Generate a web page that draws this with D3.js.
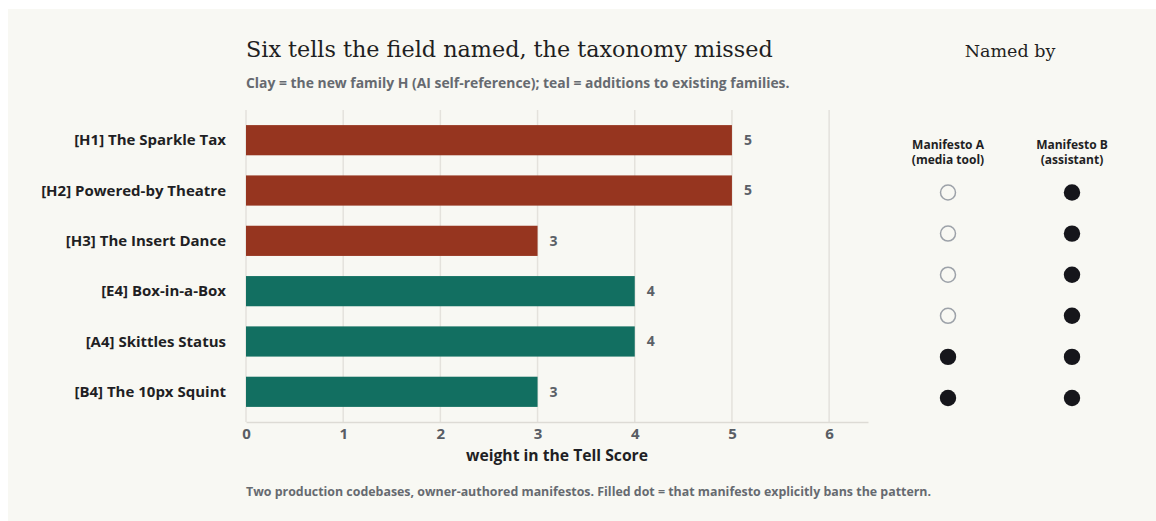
<!DOCTYPE html>
<meta charset="utf-8">
<style>
body {
  margin: 0;
  background: #ffffff;
  font-family: "Open Sans", Lato, sans-serif;
}
.title, .panel-title {
  font-family: "DejaVu Serif", "Liberation Serif", serif;
  fill: #1f1f22;
}
.subtitle, .footer {
  font-weight: 700;
  fill: #666a70;
}
.cat-label {
  font-weight: 700;
  font-size: 15px;
  fill: #1f1f24;
  text-anchor: end;
}
.val-label {
  font-weight: 700;
  font-size: 14px;
  fill: #5b6067;
}
.x-axis text {
  font-family: "Open Sans", sans-serif;
  font-weight: 700;
  font-size: 15px;
  fill: #585d64;
}
.col-head {
  font-weight: 700;
  font-size: 12px;
  fill: #1f1f24;
  text-anchor: middle;
}
</style>
<body>
<script src="https://cdn.jsdelivr.net/npm/d3@7"></script>
<script>
// data
var categories = [
  "[H1] The Sparkle Tax",
  "[H2] Powered-by Theatre",
  "[H3] The Insert Dance",
  "[E4] Box-in-a-Box",
  "[A4] Skittles Status",
  "[B4] The 10px Squint"
];
var weights = [5, 5, 3, 4, 4, 3];
var families = ["new", "new", "new", "existing", "existing", "existing"];
var manifestoA = [false, false, false, false, true, true];
var manifestoB = [true, true, true, true, true, true];
var xTicks = [0, 1, 2, 3, 4, 5, 6];
var manifestos = [
  {line1: "Manifesto A", line2: "(media tool)", bans: manifestoA},
  {line1: "Manifesto B", line2: "(assistant)", bans: manifestoB}
];

var familyColor = {"new": "#96351f", "existing": "#126f61"};

var W = 1156, H = 521;
var svg = d3.select("body").append("svg")
    .attr("width", W).attr("height", H);

// card
svg.append("rect")
    .attr("x", 8).attr("y", 9)
    .attr("width", W - 8).attr("height", H - 9)
    .attr("fill", "#f8f8f3");

var x = d3.scaleLinear().domain([0, 6.4]).range([246, 868]);
var y = d3.scaleBand().domain(categories).range([110, 422])
    .paddingInner(0.4).paddingOuter(0.3);

// gridlines
svg.append("g").selectAll("line")
    .data(xTicks)
  .enter().append("line")
    .attr("x1", function(d) { return x(d); })
    .attr("x2", function(d) { return x(d); })
    .attr("y1", 110).attr("y2", 422)
    .attr("stroke", "#e4e2dc")
    .attr("stroke-width", 1.5);

// x axis
var xAxis = svg.append("g")
    .attr("class", "x-axis")
    .attr("transform", "translate(0,422)")
    .call(d3.axisBottom(x).tickValues(xTicks).tickSize(0).tickPadding(6).tickFormat(d3.format("d")));
xAxis.select(".domain").attr("stroke", "#dddbd5").attr("stroke-width", 1.5);

// bars
svg.append("g").selectAll("rect")
    .data(categories)
  .enter().append("rect")
    .attr("x", x(0))
    .attr("y", function(d) { return y(d); })
    .attr("width", function(d, i) { return x(weights[i]) - x(0); })
    .attr("height", y.bandwidth())
    .attr("fill", function(d, i) { return familyColor[families[i]]; });

// value labels
svg.append("g").selectAll("text")
    .data(categories)
  .enter().append("text")
    .attr("class", "val-label")
    .attr("x", function(d, i) { return x(weights[i]) + 12; })
    .attr("y", function(d) { return y(d) + y.bandwidth() / 2; })
    .attr("dy", "0.35em")
    .text(function(d, i) { return weights[i]; });

// category labels
svg.append("g").selectAll("text")
    .data(categories)
  .enter().append("text")
    .attr("class", "cat-label")
    .attr("x", 226)
    .attr("y", function(d) { return y(d) + y.bandwidth() / 2; })
    .attr("dy", "0.35em")
    .text(function(d) { return d; });

// titles
svg.append("text")
    .attr("class", "title")
    .attr("x", 246).attr("y", 57)
    .style("font-size", "22.3px")
    .text("Six tells the field named, the taxonomy missed");

svg.append("text")
    .attr("class", "subtitle")
    .attr("x", 246).attr("y", 88)
    .style("font-size", "13.9px")
    .text("Clay = the new family H (AI self-reference); teal = additions to existing families.");

svg.append("text")
    .attr("x", (x(0) + x(6.4)) / 2).attr("y", 461)
    .attr("text-anchor", "middle")
    .style("font-size", "15.7px").style("font-weight", 700).style("fill", "#1f1f24")
    .text("weight in the Tell Score");

svg.append("text")
    .attr("class", "footer")
    .attr("x", 246).attr("y", 496)
    .style("font-size", "12.4px")
    .text("Two production codebases, owner-authored manifestos. Filled dot = that manifesto explicitly bans the pattern.");

// dot panel
var col = d3.scalePoint().domain([0, 1]).range([948, 1072]);
var row = d3.scalePoint().domain(categories).range([192.5, 398]);

svg.append("text")
    .attr("class", "panel-title")
    .attr("x", 1010).attr("y", 57)
    .attr("text-anchor", "middle")
    .style("font-size", "17.5px")
    .text("Named by");

var heads = svg.append("g").selectAll("g")
    .data(manifestos)
  .enter().append("g");
heads.append("text")
    .attr("class", "col-head")
    .attr("x", function(d, i) { return col(i); })
    .attr("y", 149)
    .text(function(d) { return d.line1; });
heads.append("text")
    .attr("class", "col-head")
    .attr("x", function(d, i) { return col(i); })
    .attr("y", 164)
    .text(function(d) { return d.line2; });

heads.each(function(m, j) {
  d3.select(this).selectAll("circle")
      .data(categories)
    .enter().append("circle")
      .attr("cx", col(j))
      .attr("cy", function(d) { return row(d); })
      .attr("r", function(d, i) { return m.bans[i] ? 8.2 : 7.5; })
      .attr("fill", function(d, i) { return m.bans[i] ? "#16161b" : "none"; })
      .attr("stroke", function(d, i) { return m.bans[i] ? "none" : "#9da2a9"; })
      .attr("stroke-width", 1.5);
});
</script>
</body>
